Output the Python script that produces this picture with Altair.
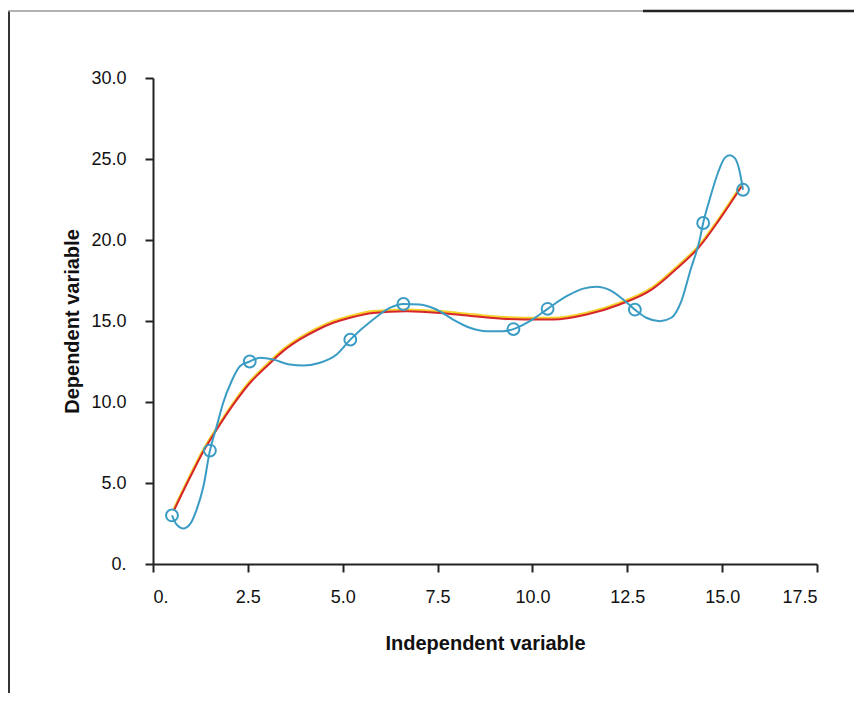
import altair as alt
import pandas as pd

# Observed data points (circles)
pts_x = [0.5, 1.5, 2.55, 5.2, 6.6, 9.5, 10.4, 12.7, 14.5, 15.55]
pts_y = [3.0, 7.0, 12.5, 13.85, 16.05, 14.5, 15.75, 15.7, 21.05, 23.1]

# Cyan interpolating curve
spline_x = [0.50, 0.62, 0.80, 0.97, 1.15, 1.33, 1.50, 1.68, 1.85, 2.07, 2.29, 2.55,
            2.82, 3.17, 3.61, 3.96, 4.40, 4.84, 5.20, 5.80, 6.24, 6.60, 7.03, 7.47,
            7.91, 8.35, 8.79, 9.23, 9.50, 9.93, 10.40, 10.90, 11.34, 11.69, 12.04,
            12.39, 12.70, 13.00, 13.36, 13.66, 13.92, 14.17, 14.41, 14.50, 14.67,
            14.89, 15.07, 15.20, 15.33, 15.46, 15.55]
spline_y = [3.00, 2.44, 2.19, 2.44, 3.36, 4.80, 7.00, 8.51, 9.95, 11.28, 12.21, 12.50,
            12.73, 12.62, 12.31, 12.25, 12.42, 12.93, 13.85, 15.09, 15.81, 16.05, 16.02,
            15.71, 15.09, 14.58, 14.37, 14.37, 14.50, 14.99, 15.75, 16.53, 17.00, 17.11,
            16.90, 16.33, 15.70, 15.20, 14.99, 15.20, 16.20, 18.18, 20.03, 21.05, 22.50,
            24.15, 25.07, 25.23, 25.07, 24.25, 23.10]

# Red/yellow fitted curve
fit_x = [0.55, 0.97, 1.33, 1.68, 2.12, 2.56, 3.00, 3.43, 3.87, 4.31, 4.75, 5.19,
         5.80, 6.68, 7.56, 8.44, 9.32, 10.19, 10.55, 11.43, 12.30, 13.15, 13.88,
         14.37, 14.94, 15.51]
fit_y = [3.30, 5.32, 6.96, 8.30, 9.85, 11.19, 12.21, 13.14, 13.86, 14.43, 14.89, 15.20,
         15.50, 15.60, 15.50, 15.30, 15.13, 15.09, 15.09, 15.40, 16.02, 16.95, 18.40,
         19.50, 21.30, 23.30]

x_ticks = [0, 2.5, 5, 7.5, 10, 12.5, 15, 17.5]
y_ticks = [0, 5, 10, 15, 20, 25, 30]

pts = pd.DataFrame({"x": pts_x, "y": pts_y})
spline = pd.DataFrame({"x": spline_x, "y": spline_y})
fit = pd.DataFrame({"x": fit_x, "y": fit_y})
one = pd.DataFrame({"a": [0]})

lab = "datum.value == 0 ? '0.' : format(datum.value, '.1f')"
x_enc = alt.X("x:Q", scale=alt.Scale(domain=[0, 17.5], nice=False, zero=False),
              axis=alt.Axis(values=x_ticks, labelExpr=lab, title="Independent variable",
                            labelPadding=16, titlePadding=27))
y_enc = alt.Y("y:Q", scale=alt.Scale(domain=[0, 30], nice=False),
              axis=alt.Axis(values=y_ticks, labelExpr=lab, title="Dependent variable",
                            labelPadding=19, titlePadding=8))

CYAN = "#3a9cc4"
yellow = alt.Chart(fit).mark_line(color="#f5cf2a", strokeWidth=2.6, yOffset=-1.5,
                                  interpolate="monotone").encode(x=x_enc, y=y_enc)
red = alt.Chart(fit).mark_line(color="#d6262b", strokeWidth=2,
                               interpolate="monotone").encode(x=x_enc, y=y_enc)
cyan = alt.Chart(spline).mark_line(color=CYAN, strokeWidth=2,
                                   interpolate="monotone").encode(x=x_enc, y=y_enc)
circles = alt.Chart(pts).mark_point(shape="circle", filled=False, color=CYAN,
                                    size=140, strokeWidth=2, opacity=1).encode(x=x_enc, y=y_enc)

frame_left = alt.Chart(one).mark_rule(color="#333", strokeWidth=2).encode(
    x=alt.value(-144), y=alt.value(-67), y2=alt.value(623))
frame_top1 = alt.Chart(one).mark_rule(color="#999", strokeWidth=1.5).encode(
    x=alt.value(-145), x2=alt.value(490), y=alt.value(-67))
frame_top2 = alt.Chart(one).mark_rule(color="#222", strokeWidth=2.5).encode(
    x=alt.value(490), x2=alt.value(709), y=alt.value(-67))

chart = alt.layer(frame_left, frame_top1, frame_top2, yellow, red, cyan, circles).properties(
    width=664, height=486,
    padding={"left": 145, "top": 70, "right": 37, "bottom": 129},
    autosize=alt.AutoSizeParams(type="none"),
).configure_view(stroke=None).configure_axis(
    grid=False,
    domainColor="#222", domainWidth=2,
    tickColor="#222", tickWidth=2, tickSize=8,
    labelFont="Liberation Sans", labelFontSize=18, labelColor="#111",
    titleFont="Liberation Sans", titleFontSize=20, titleFontWeight="bold", titleColor="#111",
)

chart.save("out.html", embed_options={"renderer": "svg", "actions": False})
